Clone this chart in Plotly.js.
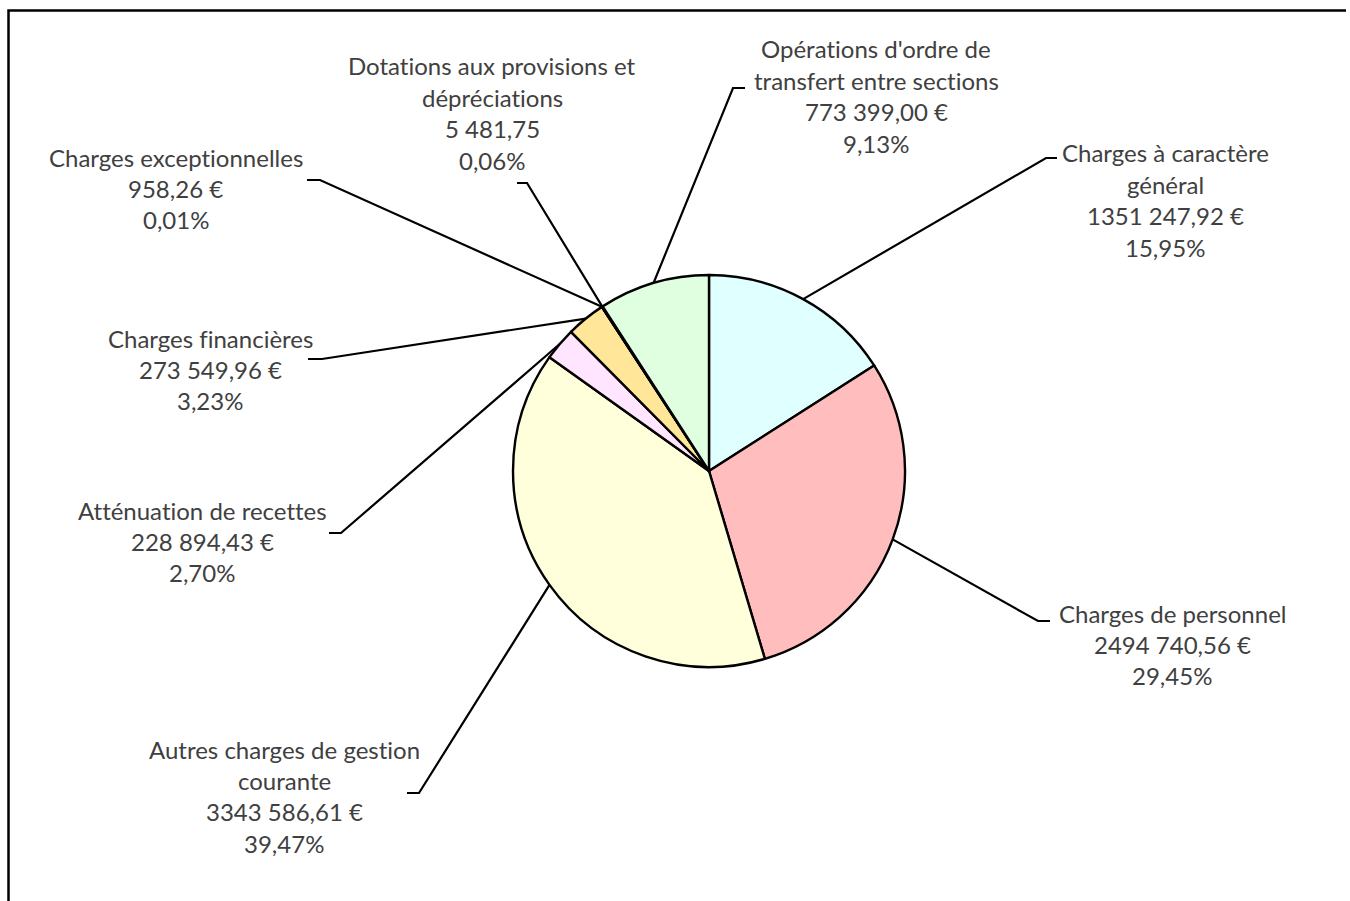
<!DOCTYPE html>
<html>
<head>
<meta charset="utf-8">
<script src="https://cdn.plot.ly/plotly-3.0.1.min.js"></script>
<style>
html,body{margin:0;padding:0;background:#fff;overflow:hidden;}
#chart{width:1350px;height:901px;}
text{font-variant-ligatures:none;font-feature-settings:"liga" 0;}
</style>
</head>
<body>
<div id="chart"></div>
<script>
// ---- data (clockwise from 12 o'clock) ----
const categories = [
  "Charges à caractère général",
  "Charges de personnel",
  "Autres charges de gestion courante",
  "Atténuation de recettes",
  "Charges financières",
  "Charges exceptionnelles",
  "Dotations aux provisions et dépréciations",
  "Opérations d'ordre de transfert entre sections"
];
const values = [1351247.92, 2494740.56, 3343586.61, 228894.43, 273549.96, 958.26, 5481.75, 773399.00];
const valueLabels = ["1351 247,92 €", "2494 740,56 €", "3343 586,61 €", "228 894,43 €", "273 549,96 €", "958,26 €", "5 481,75", "773 399,00 €"];
const nameLines = [
  ["Charges à caractère", "général"],
  ["Charges de personnel"],
  ["Autres charges de gestion", "courante"],
  ["Atténuation de recettes"],
  ["Charges financières"],
  ["Charges exceptionnelles"],
  ["Dotations aux provisions et", "dépréciations"],
  ["Opérations d'ordre de", "transfert entre sections"]
];
const colors = ["#E0FFFF", "#FFBDBD", "#FFFFDB", "#FFE5FF", "#FFE699", "#FFFFFF", "#FFFFFF", "#E0FFE0"];

// ---- layout (pixels) ----
const W = 1350, H = 901;
const CX = 709, CY = 471, R = 196;
// label block: center x, first-line y, elbow point, leader end x
const labelLayout = [
  {x: 1165, y: 153, ex: 1046, ey: 158, endx: 1057},
  {x: 1172, y: 613, ex: 1038, ey: 621, endx: 1050},
  {x: 284,  y: 749, ex: 419,  ey: 793, endx: 407},
  {x: 202,  y: 510, ex: 341,  ey: 533, endx: 329},
  {x: 210,  y: 338, ex: 322,  ey: 359, endx: 308},
  {x: 176,  y: 157, ex: 320,  ey: 180, endx: 307},
  {x: 492,  y: 66,  ex: 527,  ey: 183, endx: 517},
  {x: 876,  y: 49,  ex: 733,  ey: 88,  endx: 745}
];
const LINE_H = 31.4;
const px = x => x / W;
const py = y => 1 - y / H;

const total = values.reduce((a, b) => a + b, 0);
const pctLabels = values.map(v => (v / total * 100).toFixed(2).replace('.', ',') + '%');

const annotations = [];
const shapes = [];
let cum = 0;
values.forEach((v, i) => {
  const mid = (cum + v / 2) / total * 2 * Math.PI;
  cum += v;
  const ax = CX + R * Math.sin(mid);
  const ay = CY - R * Math.cos(mid);
  const L = labelLayout[i];
  shapes.push({
    type: 'path', xref: 'paper', yref: 'paper',
    path: `M ${px(ax)},${py(ay)} L ${px(L.ex)},${py(L.ey)} L ${px(L.endx)},${py(L.ey)}`,
    line: {color: '#000000', width: 2.2}
  });
  const lines = nameLines[i].concat([valueLabels[i], pctLabels[i]]);
  lines.forEach((t, k) => {
    annotations.push({
      text: t, showarrow: false, xref: 'paper', yref: 'paper',
      x: px(L.x), y: py(L.y + k * LINE_H), xanchor: 'center', yanchor: 'middle',
      font: {family: 'Lato, "Open Sans", sans-serif', size: 24, color: '#404040'}
    });
  });
});

// outer frame (top and left edges visible)
shapes.push({type: 'path', xref: 'paper', yref: 'paper',
  path: `M ${px(8.5)},0 L ${px(8.5)},${py(10.5)} L ${px(1346)},${py(10.5)}`,
  line: {color: '#000000', width: 2.5}});

const trace = {
  type: 'pie',
  labels: categories,
  values: values,
  sort: false,
  direction: 'clockwise',
  rotation: 0,
  textinfo: 'none',
  hoverinfo: 'skip',
  marker: {colors: colors, line: {color: '#000000', width: 2.4}},
  domain: {x: [px(CX - R), px(CX + R)], y: [py(CY + R), py(CY - R)]},
  showlegend: false
};

Plotly.newPlot('chart', [trace], {
  width: W, height: H,
  margin: {l: 0, r: 0, t: 0, b: 0},
  paper_bgcolor: '#ffffff',
  showlegend: false,
  annotations: annotations,
  shapes: shapes
}, {displayModeBar: false, staticPlot: true});
</script>
</body>
</html>
